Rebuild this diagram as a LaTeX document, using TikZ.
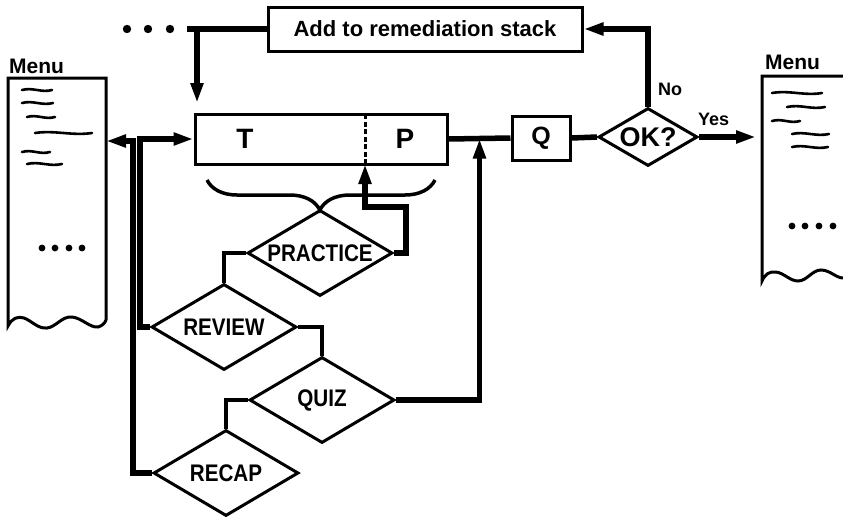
\documentclass[tikz,border=0pt]{standalone}
\usepackage{fontspec}
\setmainfont{Liberation Sans}
\newfontfamily\narrowsf{Liberation Sans}[FakeStretch=0.86]
\usetikzlibrary{shapes.geometric,arrows.meta,calc,decorations.pathreplacing}
\begin{document}
\begin{tikzpicture}[x=1pt,y=-1pt,>={Triangle[length=20pt,width=12pt]},
            box/.style={draw,line width=3pt,inner sep=0pt,font=\bfseries\fontsize{22}{26}\selectfont},
            decision/.style={draw,diamond,aspect=1.7,line width=3pt,inner sep=0pt,minimum width=145pt,minimum height=86pt,font=\narrowsf\bfseries\fontsize{24}{28}\selectfont},
            conn/.style={line width=5.5pt},
            link/.style={line width=4pt},
            menuline/.style={line width=2.6pt,line cap=round},
            tag/.style={font=\bfseries\fontsize{18}{20}\selectfont,inner sep=0pt,anchor=base west}]
            \useasboundingbox (0,0) rectangle (843,517);
            % menus
            \node[tag,font=\bfseries\fontsize{21}{24}\selectfont] (menuleft) at (9,73) {Menu};
            \node[tag,font=\bfseries\fontsize{21}{24}\selectfont] (menuright) at (765,69) {Menu};
            \draw[line width=3pt] (106,320) -- (106,78) -- (8,78) -- (8,326) .. controls (12,318) and (18,316) .. (24,318) .. controls (32,321) and (38,329) .. (47,328) .. controls (56,327) and (62,316) .. (72,317) .. controls (82,318) and (90,328) .. (98,327) .. controls (102,326) and (105,323) .. (106,320);
            \draw[line width=3pt] (843,76) -- (762,76) -- (762,281) .. controls (765,274) and (770,271) .. (776,272) .. controls (784,273) and (790,281) .. (798,281) .. controls (807,281) and (812,270) .. (821,270) .. controls (830,270) and (836,278) .. (843,278);
            \foreach \a/\b/\y in {22/52/90,22/53/103,27/55/117,35/92/133,22/50/152,27/62/164,772/822/93,787/825/107,772/800/121,792/829/134,792/828/147}
                \draw[menuline] (\a,\y) .. controls ($(\a,\y)!.35!(\b,\y)+(0,-3)$) and ($(\a,\y)!.65!(\b,\y)+(0,3)$) .. (\b,\y);
            \foreach \x in {42,55,69,82} \fill (\x,248) circle (3.4pt);
            \foreach \x in {792,805,819,833} \fill (\x,226) circle (3.4pt);
            % boxes and decisions
            \node[box,minimum width=314pt,minimum height=44pt] (remed) at (425,29) {Add to remediation stack};
            \node[box,minimum width=252pt,minimum height=50pt] (tp) at (321,139) {};
            \node[font=\bfseries\fontsize{28}{30}\selectfont] (tlabel) at (245,139) {T};
            \node[font=\bfseries\fontsize{28}{30}\selectfont] (plabel) at (405,139) {P};
            \node[box,minimum width=58pt,minimum height=44pt,font=\bfseries\fontsize{25}{28}\selectfont] (q) at (541,138) {Q};
            \node[decision,minimum width=99pt,minimum height=58pt,font=\bfseries\fontsize{27}{30}\selectfont] (ok) at (648,137) {OK?};
            \node[decision] (practice) at (320,253) {PRACTICE};
            \node[decision] (review) at (224,327) {REVIEW};
            \node[decision] (quiz) at (322,400) {QUIZ};
            \node[decision] (recap) at (226,473) {RECAP};
            \node[tag] (nolabel) at (658,95) {No};
            \node[tag] (yeslabel) at (698,125) {Yes};
            \coordinate (split) at (365,164);
            \coordinate (merge) at ($(tp.east)!.5!(q.west)$);
            \coordinate (menuin) at (106,141);
            \coordinate (menuout) at (756,137);
            \coordinate (drop) at (197,29);
            \coordinate (dropend) at (197,103);
            \coordinate (dotsend) at (187,29);
            \draw[line width=3pt,dash pattern=on 5pt off 2.5pt] (split) -- (split |- tp.north);
            \draw[line width=3.5pt,decorate,decoration={brace,mirror,amplitude=30pt,aspect=0.495}] (207,180) -- (435,180);
            % connectors
            \draw[conn] (tp.east) -- (q.west);
            \draw[conn] (q.east) -- (ok.west);
            \draw[conn,->] (ok.east) -- (menuout);
            \draw[conn,->] (ok.north) |- (remed.east);
            \draw[conn] (remed.west) -- (dotsend);
            \foreach \x in {127,148,170} \fill (\x,29) circle (4.2pt);
            \draw[conn,->] (drop) -- (dropend);
            \draw[conn,->] (review.west) -- ++(-10,0) |- (tp.west);
            \draw[conn,->] (recap.west) -- ++(-19,0) |- (menuin);
            \draw[link] (practice.west) -| (review.north);
            \draw[link] (review.east) -| (quiz.north);
            \draw[link] (quiz.west) -| (recap.north);
            \draw[conn,->] (quiz.east) -| (merge);
            \draw[conn,->] (practice.east) -- ++(12,0) -- ++(0,-46) -| (split);
    \end{tikzpicture}
\end{document}
